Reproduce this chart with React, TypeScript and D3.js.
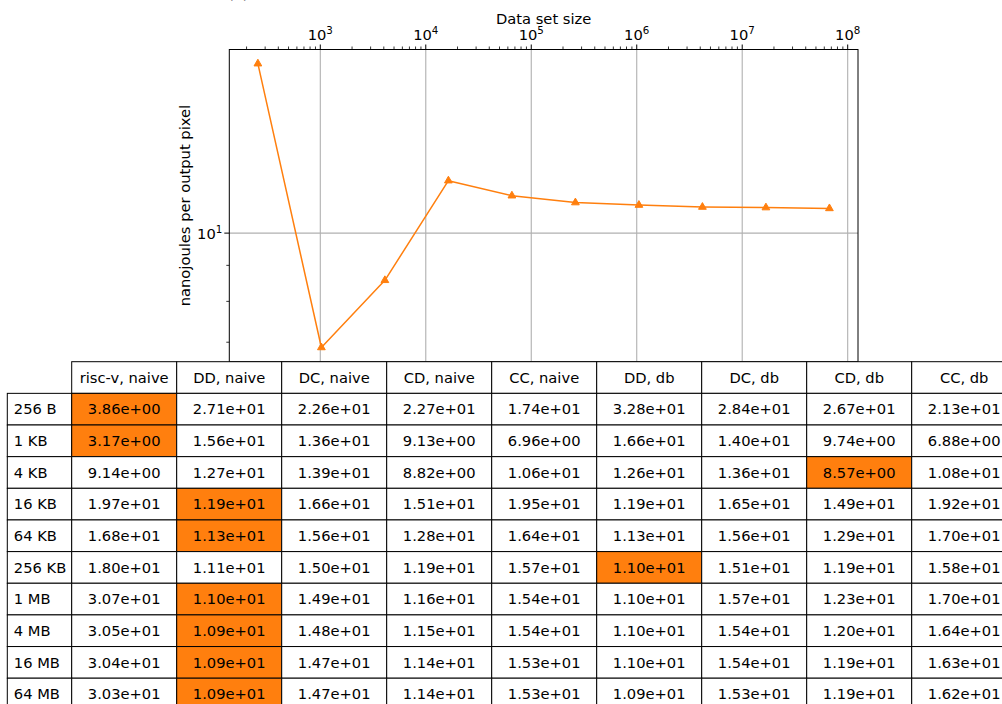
import React from "react";
import * as d3 from "d3";

// ---------- data ----------
const rowLabels = ["256 B", "1 KB", "4 KB", "16 KB", "64 KB", "256 KB", "1 MB", "4 MB", "16 MB", "64 MB"];
const dataSetSizes = [256, 1024, 4096, 16384, 65536, 262144, 1048576, 4194304, 16777216, 67108864];
const columnLabels = ["risc-v, naive", "DD, naive", "DC, naive", "CD, naive", "CC, naive", "DD, db", "DC, db", "CD, db", "CC, db"];

const riscvNaive = [3.86, 3.17, 9.14, 19.7, 16.8, 18.0, 30.7, 30.5, 30.4, 30.3];
const ddNaive = [27.1, 15.6, 12.7, 11.9, 11.3, 11.1, 11.0, 10.9, 10.9, 10.9];
const dcNaive = [22.6, 13.6, 13.9, 16.6, 15.6, 15.0, 14.9, 14.8, 14.7, 14.7];
const cdNaive = [22.7, 9.13, 8.82, 15.1, 12.8, 11.9, 11.6, 11.5, 11.4, 11.4];
const ccNaive = [17.4, 6.96, 10.6, 19.5, 16.4, 15.7, 15.4, 15.4, 15.3, 15.3];
const ddDb = [32.8, 16.6, 12.6, 11.9, 11.3, 11.0, 11.0, 11.0, 11.0, 10.9];
const dcDb = [28.4, 14.0, 13.6, 16.5, 15.6, 15.1, 15.7, 15.4, 15.4, 15.3];
const cdDb = [26.7, 9.74, 8.57, 14.9, 12.9, 11.9, 12.3, 12.0, 11.9, 11.9];
const ccDb = [21.3, 6.88, 10.8, 19.2, 17.0, 15.8, 17.0, 16.4, 16.3, 16.2];

// plotted line: best (lowest) energy per output pixel among the accelerator variants
const bestValues = [17.4, 6.88, 8.57, 11.87, 11.3, 11.05, 10.96, 10.89, 10.87, 10.84];

const xTickExponents = [3, 4, 5, 6, 7, 8];
const yTickExponents = [1];

const columns = [riscvNaive, ddNaive, dcNaive, cdNaive, ccNaive, ddDb, dcDb, cdDb, ccDb];

// ---------- layout ----------
const W = 1002;
const H = 704;
const FONT = "DejaVu Sans, Verdana, sans-serif";
const FS = 14.7;
const ORANGE = "#ff7f0e";

const axL = 229.3;
const axR = 858;
const axT = 49.5;
const axB = 361.7;

const tblLabelX = 7.3;
const tblX0 = 71.7;
const colW = 105;
const rowH = 31.65;

function logDomain(vals: number[], margin = 0.05): [number, number] {
  const lo = Math.log10(d3.min(vals) as number);
  const hi = Math.log10(d3.max(vals) as number);
  const r = hi - lo;
  return [Math.pow(10, lo - r * margin), Math.pow(10, hi + r * margin)];
}

function sci(v: number): string {
  const [m, e] = v.toExponential(2).split("e");
  const n = +e;
  return `${m}e${n < 0 ? "-" : "+"}${String(Math.abs(n)).padStart(2, "0")}`;
}

export default function App() {
  const x = d3.scaleLog().domain(logDomain(dataSetSizes)).range([axL, axR]);
  const y = d3.scaleLog().domain(logDomain(bestValues)).range([axB, axT]);

  const [xd0, xd1] = x.domain();
  const xMinor: number[] = [];
  for (let e = Math.floor(Math.log10(xd0)); e <= Math.ceil(Math.log10(xd1)); e++) {
    for (let k = 2; k <= 9; k++) {
      const v = k * Math.pow(10, e);
      if (v >= xd0 && v <= xd1) xMinor.push(v);
    }
  }
  const [yd0, yd1] = y.domain();
  const yMinor: number[] = [];
  for (let e = Math.floor(Math.log10(yd0)); e <= Math.ceil(Math.log10(yd1)); e++) {
    for (let k = 2; k <= 9; k++) {
      const v = k * Math.pow(10, e);
      if (v >= yd0 && v <= yd1) yMinor.push(v);
    }
  }

  const line = d3
    .line<number>()
    .x((_, i) => x(dataSetSizes[i]))
    .y((d) => y(d));
  const tri = d3.symbol().type(d3.symbolTriangle).size(26)() as string;

  const rows = rowLabels.map((_, r) => columns.map((c) => c[r]));
  const shown = rows.map((row) => row.map((v) => sci(v)));
  const highlight = rows.map((row) => {
    let best = 0;
    row.forEach((v, i) => {
      if (+sci(v) < +sci(row[best])) best = i;
    });
    return best;
  });

  return (
    <svg
      width={W}
      height={H}
      style={{ position: "absolute", left: 0, top: 0, background: "#fff" }}
      fontFamily={FONT}
    >
      <rect x={0} y={0} width={W} height={H} fill="#fff" />
      <text x={228} y={-1} fontSize={FS} fill="#000">(a)</text>

      {/* grid */}
      {xTickExponents.map((e) => (
        <line key={"gx" + e} x1={x(Math.pow(10, e))} x2={x(Math.pow(10, e))} y1={axT} y2={axB} stroke="#b0b0b0" strokeWidth={1.1} />
      ))}
      {yTickExponents.map((e) => (
        <line key={"gy" + e} x1={axL} x2={axR} y1={y(Math.pow(10, e))} y2={y(Math.pow(10, e))} stroke="#b0b0b0" strokeWidth={1.1} />
      ))}

      {/* line + markers */}
      <path d={line(bestValues) as string} fill="none" stroke={ORANGE} strokeWidth={1.5} strokeLinejoin="round" />
      {bestValues.map((v, i) => (
        <path key={"m" + i} d={tri} transform={`translate(${x(dataSetSizes[i])},${y(v)})`} fill={ORANGE} stroke={ORANGE} strokeWidth={1} />
      ))}

      {/* spines */}
      <rect x={axL} y={axT} width={axR - axL} height={axB - axT} fill="none" stroke="#000" strokeWidth={1} />

      {/* x ticks on top */}
      {xTickExponents.map((e) => {
        const px = x(Math.pow(10, e));
        return (
          <g key={"xt" + e}>
            <line x1={px} x2={px} y1={axT} y2={axT - 5} stroke="#000" strokeWidth={1} />
            <text x={px} y={39.5} textAnchor="middle" fontSize={FS} fill="#000">
              10<tspan dy={-6} fontSize={FS * 0.7}>{e}</tspan>
            </text>
          </g>
        );
      })}
      {xMinor.map((v, i) => (
        <line key={"xm" + i} x1={x(v)} x2={x(v)} y1={axT} y2={axT - 3} stroke="#000" strokeWidth={0.8} />
      ))}
      <text x={(axL + axR) / 2} y={24} textAnchor="middle" fontSize={FS} fill="#000">Data set size</text>

      {/* y ticks */}
      {yTickExponents.map((e) => {
        const py = y(Math.pow(10, e));
        return (
          <g key={"yt" + e}>
            <line x1={axL} x2={axL - 5} y1={py} y2={py} stroke="#000" strokeWidth={1} />
            <text x={axL - 7} y={py + 6} textAnchor="end" fontSize={FS} fill="#000">
              10<tspan dy={-6} fontSize={FS * 0.7}>{e}</tspan>
            </text>
          </g>
        );
      })}
      {yMinor.map((v, i) => (
        <line key={"ym" + i} x1={axL} x2={axL - 3} y1={y(v)} y2={y(v)} stroke="#000" strokeWidth={0.8} />
      ))}
      <text
        transform={`translate(190,${(axT + axB) / 2}) rotate(-90)`}
        textAnchor="middle"
        fontSize={FS}
        fill="#000"
      >
        nanojoules per output pixel
      </text>

      {/* table */}
      <g>
        {columnLabels.map((c, j) => (
          <g key={"h" + j}>
            <rect x={tblX0 + j * colW} y={axB} width={colW} height={rowH} fill="#fff" stroke="#000" strokeWidth={1} />
            <text x={tblX0 + j * colW + colW / 2} y={axB + rowH / 2} dy="0.35em" textAnchor="middle" fontSize={FS} fill="#000">
              {c}
            </text>
          </g>
        ))}
        {rowLabels.map((lab, r) => {
          const ry = axB + rowH * (r + 1);
          return (
            <g key={"r" + r}>
              <rect x={tblLabelX} y={ry} width={tblX0 - tblLabelX} height={rowH} fill="#fff" stroke="#000" strokeWidth={1} />
              <text x={tblLabelX + 6.5} y={ry + rowH / 2} dy="0.35em" fontSize={FS} fill="#000">
                {lab}
              </text>
              {shown[r].map((s, j) => (
                <g key={"c" + j}>
                  <rect
                    x={tblX0 + j * colW}
                    y={ry}
                    width={colW}
                    height={rowH}
                    fill={highlight[r] === j ? ORANGE : "#fff"}
                    stroke="#000"
                    strokeWidth={1}
                  />
                  <text x={tblX0 + j * colW + colW / 2} y={ry + rowH / 2} dy="0.35em" textAnchor="middle" fontSize={FS} fill="#000">
                    {s}
                  </text>
                </g>
              ))}
            </g>
          );
        })}
      </g>
    </svg>
  );
}
